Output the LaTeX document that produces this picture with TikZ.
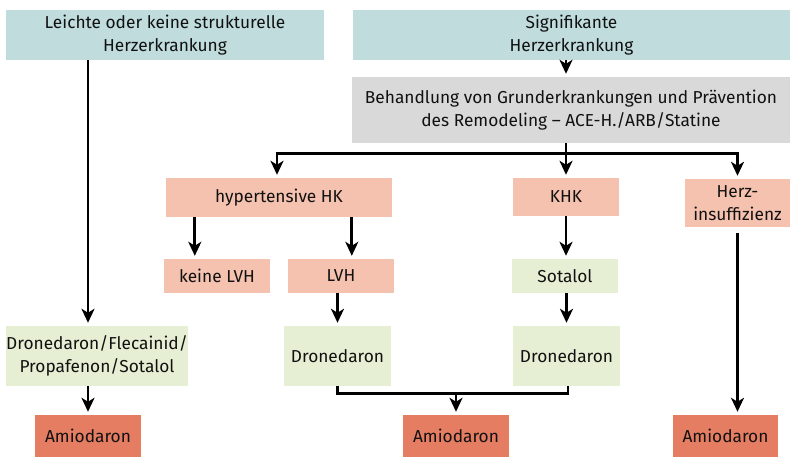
\documentclass[tikz,border=0pt]{standalone}
\usepackage{fontspec}
\setmainfont{Fira Sans}
\usetikzlibrary{arrows.meta,calc}
\definecolor{cteal}{HTML}{C0DCDD}
\definecolor{cgray}{HTML}{D9D9D9}
\definecolor{csalmon}{HTML}{F4C2AE}
\definecolor{cgreen}{HTML}{E6EFD3}
\definecolor{camio}{HTML}{E57D62}
\definecolor{ctext}{HTML}{111111}
\tikzset{
  box/.style={rectangle, inner sep=0pt, align=center, text=ctext,
    font=\fontsize{17.3}{23}\selectfont},
  arr/.style={line width=2.8pt, -{Stealth[length=14pt,width=13pt,inset=4pt]}, shorten >=3pt},
  ln/.style={line width=2.8pt}
}
\begin{document}
\begin{tikzpicture}[x=1pt,y=-1pt]
\useasboundingbox (0,0) rectangle (790,457);
\node[box, fill=cteal, minimum width=318, minimum height=50] (L1) at (165,35) {Leichte oder keine strukturelle\\Herzerkrankung};
\node[box, fill=cteal, minimum width=437, minimum height=50] (S1) at (571.5,35) {Signifikante\\Herzerkrankung};
\node[box, fill=cgray, minimum width=438, minimum height=66] (B1) at (571,110) {Behandlung von Grunderkrankungen und Prävention\\des Remodeling – ACE-H./ARB/Statine};
\node[box, fill=csalmon, minimum width=226, minimum height=39] (HK) at (279,197.5) {hypertensive HK};
\node[box, fill=csalmon, minimum width=106, minimum height=38] (KHK) at (566,197) {KHK};
\node[box, fill=csalmon, minimum width=105, minimum height=48] (HI) at (737.5,203) {Herz-\\insuffizienz};
\node[box, fill=csalmon, minimum width=106, minimum height=34] (kLVH) at (217,276) {keine LVH};
\node[box, fill=csalmon, minimum width=106, minimum height=34] (LVH) at (341,276) {LVH};
\node[box, fill=cgreen, minimum width=106, minimum height=34] (Sot) at (565,276) {Sotalol};
\node[box, fill=cgreen, minimum width=182, minimum height=60] (DFPS) at (97,356) {Dronedaron/Flecainid/\\Propafenon/Sotalol};
\node[box, fill=cgreen, minimum width=107, minimum height=60] (D1) at (337.5,356) {Dronedaron};
\node[box, fill=cgreen, minimum width=107, minimum height=60] (D2) at (566.5,356) {Dronedaron};
\node[box, fill=camio, minimum width=106, minimum height=42] (A1) at (88,436) {Amiodaron};
\node[box, fill=camio, minimum width=106, minimum height=42] (A2) at (456,436) {Amiodaron};
\node[box, fill=camio, minimum width=105, minimum height=42] (A3) at (725.5,436) {Amiodaron};
% connectors
\draw[arr] (L1.south -| A1) -- (DFPS.north -| A1);
\draw[arr] (DFPS.south -| A1) -- (A1.north);
\draw[arr] (S1.south -| KHK) -- (B1.north -| KHK);
\coordinate (br) at ($(B1.south -| KHK)+(0,10)$);
\draw[arr] (B1.south -| KHK) -- (KHK.north);
\draw[arr] (br) -| ($(HK.north)+(-2,0)$);
\draw[arr] (br) -| (HI.north);
\draw[arr] ($(HK.south west)+(29,0)$) -- ($(kLVH.north west)+(31,0)$);
\draw[arr] ($(HK.south west)+(186,0)$) -- ($(LVH.north west)+(64,0)$);
\draw[arr] (KHK.south) -- (Sot.north -| KHK);
\draw[arr] (LVH.south -| D1) -- (D1.north);
\draw[arr] (Sot.south -| D2) -- (D2.north);
\coordinate (mg) at ($(D1.south)+(0,7)$);
\draw[ln] (D1.south) -- (mg) -| ($(D2.south)+(1.5,0)$);
\draw[arr] (mg -| A2) -- (A2.north);
\draw[arr] ($(HI.south)+(0,6)$) -- (A3.north -| HI);
\end{tikzpicture}
\end{document}
